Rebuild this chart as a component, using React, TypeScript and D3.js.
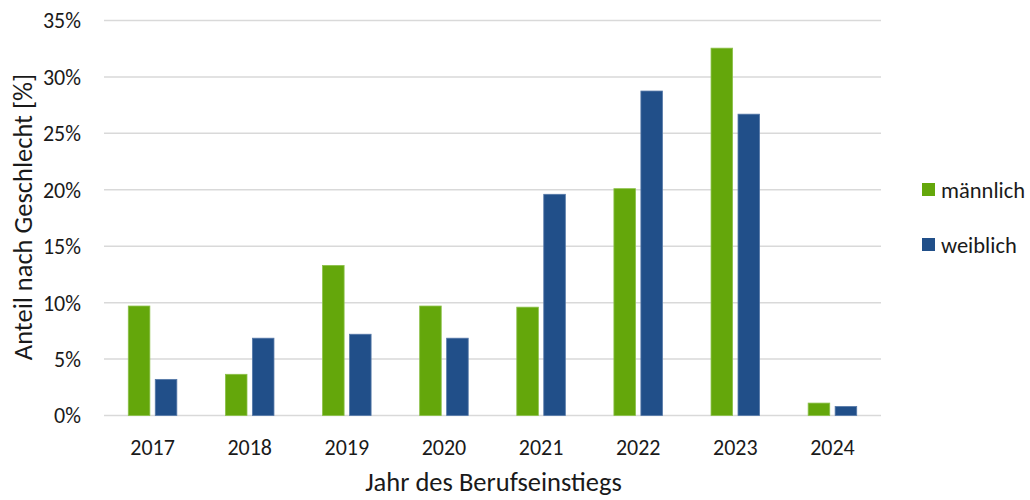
import React from 'react';
import * as d3 from 'd3';

const years = ['2017', '2018', '2019', '2020', '2021', '2022', '2023', '2024'];
const series = ['männlich', 'weiblich'];
const maleValues = [9.7, 3.65, 13.3, 9.7, 9.6, 20.1, 32.55, 1.1];
const femaleValues = [3.2, 6.85, 7.2, 6.85, 19.6, 28.75, 26.7, 0.8];
const yTicks = [0, 5, 10, 15, 20, 25, 30, 35];

const colors: Record<string, string> = { 'männlich': '#64a70b', 'weiblich': '#214f89' };
const strokes: Record<string, string> = { 'männlich': '#8cc04a', 'weiblich': '#5679a8' };

const W = 1030;
const H = 500;
const font = 'Carlito, Calibri, Lato, sans-serif';

const App: React.FC = () => {
  const left = 104;
  const right = 881;
  const top = 20.5;
  const bottom = 415.5;

  const x0 = d3.scaleBand<string>().domain(years).range([left, right]).paddingInner(0.5).paddingOuter(0.25);
  const x1 = d3.scaleBand<string>().domain(series).range([0, x0.bandwidth()]).paddingInner(0.2);
  const y = d3.scaleLinear().domain([0, 35]).range([bottom, top]);

  const rows = years.map((yr, i) => ({ year: yr, values: [maleValues[i], femaleValues[i]] }));

  return (
    <svg width={W} height={H} style={{ position: 'absolute', left: 0, top: 0, background: '#fff' }}>
      <g>
        {yTicks.map(t => (
          <line key={t} x1={left} x2={right} y1={y(t)} y2={y(t)} stroke="#d9d9d9" strokeWidth={1.5} />
        ))}
      </g>
      <g>
        {rows.map(r => (
          <g key={r.year} transform={`translate(${x0(r.year)},0)`}>
            {series.map((s, j) => (
              <rect
                key={s}
                x={x1(s)}
                y={y(r.values[j])}
                width={x1.bandwidth()}
                height={bottom - y(r.values[j])}
                fill={colors[s]}
                stroke={strokes[s]}
                strokeWidth={0.8}
              />
            ))}
          </g>
        ))}
      </g>
      <g fontFamily={font} fontSize={22} fill="#1a1a1a">
        {yTicks.map(t => (
          <text key={t} x={81} y={y(t)} dy="0.36em" textAnchor="end">{`${t}%`}</text>
        ))}
        {years.map(yr => (
          <text key={yr} x={(x0(yr) ?? 0) + x0.bandwidth() / 2} y={447} dy="0.36em" textAnchor="middle">{yr}</text>
        ))}
        <text x={(left + right) / 2 + 1} y={481} dy="0.36em" textAnchor="middle" fontSize={26.5}>Jahr des Berufseinstiegs</text>
        <text transform={`translate(22,217) rotate(-90)`} dy="0.36em" textAnchor="middle" fontSize={26.5}>
          Anteil nach Geschlecht [%]
        </text>
      </g>
      <g fontFamily={font} fontSize={22.5} fill="#1a1a1a">
        {series.map((s, i) => (
          <g key={s} transform={`translate(922,${183 + i * 55})`}>
            <rect width={13} height={13} fill={colors[s]} />
            <text x={19} y={6.5} dy="0.36em">{s}</text>
          </g>
        ))}
      </g>
    </svg>
  );
};

export default App;
